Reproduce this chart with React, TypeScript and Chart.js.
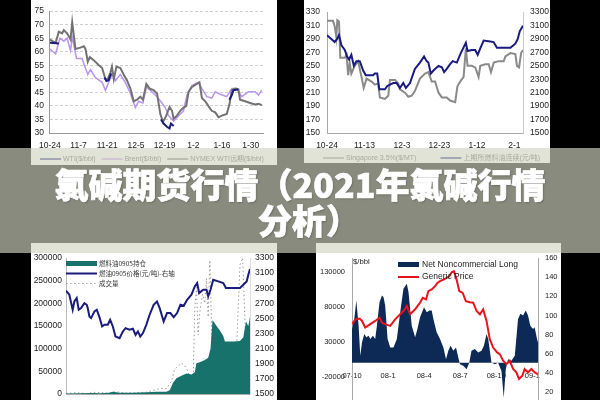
import React, { useEffect, useRef } from 'react';
import { Chart, registerables } from 'chart.js';
Chart.register(...registerables);

const FONT = '"Liberation Sans", Arial, "Noto Sans CJK SC", sans-serif';
const CJK = '"Noto Sans CJK SC", "Liberation Sans", sans-serif';

// ---------- Chart 1 : WTI / Brent / NYMEX ----------
const c1TickDays = [0, 14, 28, 42, 56, 70, 84, 98];
const c1TickLabels = ['10-24', '11-7', '11-21', '12-5', '12-19', '1-2', '1-16', '1-30'];
const wtiDays = [0, 1.9, 4.4, 5.0, 26.6, 27.6, 28.7, 29.9, 30.5, 54.2, 55.5, 57.1, 58.4, 59.1, 60.4, 61, 87.6, 88.8, 89.6, 92.0];
const wtiVals = [63.3, 63.2, 63.0, null, 50.5, 49.2, 49.5, 52, null, 35, 33.5, 32.3, 31.7, 33.5, 32.6, null, 42.3, 44, 45.8, 46.1];
const brentDays = [0, 2.8, 4.9, 6.8, 8.4, 10.1, 10.9, 13.0, 15.7, 18.5, 19.8, 22.2, 25.5, 27.1, 28.7, 30.3, 32.0, 34.4, 36.8, 39.3, 41.7, 43.3, 45.4, 47.1, 49.0, 52.3, 54.7, 56.3, 57.9, 60.4, 62.8, 65.2, 66.9, 69.3, 72.5, 74.2, 76.6, 79.0, 80.7, 83.1, 86.3, 88.8, 91.2, 93.6, 96.9, 100.1, 101.8, 103.4];
const brentVals = [61, 59.2, 65, 63.9, 65, 60.4, 65.6, 57.5, 57.5, 51.6, 53.4, 50.5, 48.7, 45.8, 48.7, 51.6, 49.3, 51.6, 48.7, 44.6, 39.4, 41.7, 41.1, 47, 45.8, 43.4, 41.1, 39.4, 36.4, 34.4, 36.4, 38.2, 44, 47.5, 48.7, 46.4, 43.4, 42.9, 45.2, 44.3, 43.4, 46.4, 46.4, 43.4, 45.2, 45.2, 44, 45.8];
const nymexDays = [0, 2.8, 4.4, 6.0, 6.8, 8.4, 10.1, 10.9, 12.5, 14.9, 16.6, 17.4, 18.5, 19.5, 21.4, 23.9, 25.5, 27.1, 28.2, 29.5, 30.3, 31.2, 32.5, 34.4, 36.0, 37.7, 39.3, 40.9, 42.5, 44.1, 45.4, 47.1, 48.7, 50.6, 52.3, 53.9, 55.2, 56.8, 58.4, 59.6, 60.4, 62.0, 63.6, 65.2, 66.5, 67.7, 69.3, 71.7, 73.0, 74.2, 75.8, 77.4, 79.0, 80.7, 82.3, 83.9, 86.3, 87.6, 88.8, 90.4, 92.0, 92.8, 95.3, 97.7, 100.1, 101.8, 103.4];
const nymexVals = [64.5, 63.3, 67.4, 66.8, 68, 66.8, 64.5, 70.9, 61, 61.5, 62, 61, 56.3, 58, 56.9, 55, 54, 49.9, 49.9, 52.2, 54.5, 49.9, 54.5, 54, 51.6, 49.3, 46.4, 41.7, 42.3, 43.4, 42.3, 48.1, 46.4, 45.8, 44.6, 37, 34.1, 36.4, 39.6, 38.2, 35.3, 36.4, 38.2, 39.4, 39.9, 45.2, 47, 48.1, 48.7, 42.9, 41.7, 39.9, 38.2, 37.6, 35.8, 36.4, 37, 40.5, 45.8, 46.4, 46.1, 42.3, 41.7, 41.1, 40.5, 40.8, 40.3];

// ---------- Chart 2 : Singapore / SHFE fuel oil ----------
const c2TickDays = [0, 20, 40, 60, 80, 100];
const c2TickLabels = ['10-24', '11-13', '12-3', '12-23', '1-12', '2-1'];
const sgDays = [0, 3.2, 4.1, 5.0, 5.5, 6.4, 7.1, 9.5, 10.4, 11.3, 12.1, 13.0, 14.8, 16.6, 18.4, 19.6, 21.1, 23.8, 25.5, 27.3, 28.2, 30.9, 32.7, 33.6, 36.3, 38.0, 38.9, 41.6, 43.4, 45.2, 46.9, 49.6, 52.3, 54.1, 55.9, 57.7, 59.5, 61.3, 63.9, 65.7, 68.4, 69.6, 71.1, 72.9, 74.1, 75.0, 77.3, 79.1, 80.9, 81.8, 84.5, 86.3, 87.5, 89.0, 91.6, 94.3, 95.2, 97.9, 100.5, 101.4, 102.5, 103.6, 104.6];
const sgVals = [317.3, 317, 308.9, 292.4, 318, 316, 262, 262, 266.5, 236, 254.8, 238.4, 250, 257, 233.6, 217, 231, 226.6, 222, 224, 203, 200.8, 205.5, 229, 229, 224, 215, 210, 204, 205.5, 212.5, 231, 238.4, 240.7, 226.6, 226.6, 210, 203, 203, 198.4, 196, 219.6, 226.6, 233.6, 276, 250, 250, 247.7, 233.6, 250, 252.4, 252.4, 240.7, 254.8, 257, 257, 264, 269, 267.5, 250, 247.7, 269, 273.6];
const shDays = [0, 2.3, 4.1, 5.4, 6.4, 7.7, 9.5, 10.7, 11.8, 13.0, 14.3, 15.7, 17.5, 19.3, 20.7, 22.9, 24.6, 25.5, 26.8, 27.9, 30.9, 32.1, 33.6, 35.4, 37.1, 38.9, 40.7, 42.1, 44.3, 46.9, 49.6, 51.8, 53.2, 54.1, 55.4, 56.8, 59.5, 61.3, 62.5, 63.9, 65.7, 67.1, 69.3, 71.4, 74.1, 75.0, 77.3, 79.1, 80.4, 81.8, 83.6, 87.1, 88.9, 90.7, 95.2, 97.9, 100.5, 101.8, 102.9, 104.6];
const shVals = [2957, 2900, 2854, 2900, 2957, 2807, 2736, 2640, 2595, 2665, 2500, 2570, 2570, 2430, 2360, 2360, 2360, 2384, 2384, 2150, 2150, 2196, 2220, 2244, 2244, 2170, 2244, 2170, 2244, 2454, 2548, 2640, 2570, 2548, 2384, 2430, 2500, 2477, 2407, 2454, 2524, 2570, 2548, 2690, 2844, 2720, 2736, 2736, 2665, 2760, 2877, 2863, 2854, 2770, 2770, 2770, 2830, 2900, 3018, 3098];

// ---------- Chart 3 : fuel oil 0905 ----------
const oiDays = [0, 8, 16, 20, 26, 28, 32, 40, 48, 54, 60, 62, 64, 66, 69, 72, 75, 77, 78, 80, 83, 85, 86.4, 87.6, 90, 92, 94, 95, 100, 104, 106, 107.6, 109, 110];
const oiVals = [1000, 1500, 2000, 1500, 3000, 5000, 3000, 3000, 4000, 5000, 5000, 8000, 25000, 35000, 40000, 45000, 43000, 48000, 68000, 70000, 75000, 80000, 100000, 163000, 150000, 140000, 128000, 116000, 116000, 117000, 125000, 160000, 150000, 170000];
const fpDays = [0, 2, 4, 5, 6.4, 7.6, 9, 11, 12.4, 13, 14, 15, 17, 18.4, 20, 21.6, 23, 25, 26.4, 28, 29.6, 32, 34, 35.6, 38, 40, 41.6, 43, 44.4, 46, 48, 50, 52.4, 54.4, 56, 58.4, 60.4, 62.4, 64.4, 66.4, 68.4, 70.4, 72.4, 75, 77, 78.4, 79.6, 82, 84, 85, 86.4, 88, 91, 94, 95.6, 100, 104, 106, 108, 109, 110];
const fpVals = [2867, 2814, 2615, 2725, 2770, 2615, 2637, 2703, 2681, 2637, 2527, 2504, 2593, 2615, 2517, 2394, 2416, 2416, 2482, 2394, 2261, 2239, 2328, 2372, 2350, 2363, 2283, 2328, 2261, 2306, 2416, 2549, 2681, 2725, 2637, 2460, 2571, 2571, 2517, 2571, 2681, 2668, 2747, 2814, 2924, 2968, 2836, 2880, 2880, 2792, 2880, 3013, 2990, 2968, 2902, 2902, 2902, 2946, 2990, 3079, 3154];
const volDays = [0, 6, 12, 18, 24, 30, 36, 42, 48, 52, 56, 60, 63, 65, 69, 71, 73, 75, 76, 77, 78, 79, 80, 81.6, 83, 84, 85, 86, 87.2, 90, 96, 102, 104, 105.6, 107.2, 110];
const volVals = [1000, 3000, 1000, 4000, 2000, 5000, 2000, 3000, 4000, 8000, 12000, 12000, 28000, 55000, 68000, 62000, 50000, 8000, 30000, 190000, 235000, 130000, 180000, 220000, 200000, 255000, 170000, 295000, 120000, 110000, 100000, 105000, 285000, 300000, 140000, 155000];

// ---------- Chart 4 : net noncommercial long ----------
const c4TickMonths = [0, 3, 6, 9, 12, 15];
const c4TickLabels = ['07-10', '08-1', '08-4', '08-7', '08-10', '09-1'];
const c4LeftTicks = [-70000, -20000, 30000, 80000, 130000];
const nclMonths = [0, 0.19, 0.36, 0.55, 0.69, 0.83, 1.02, 1.19, 1.38, 1.52, 1.74, 1.93, 2.07, 2.29, 2.49, 2.62, 2.76, 2.96, 3.18, 3.45, 3.73, 4.01, 4.28, 4.56, 4.70, 4.97, 5.25, 5.44, 5.66, 5.99, 6.22, 6.44, 6.63, 6.77, 7.04, 7.32, 7.60, 7.82, 8.01, 8.20, 8.43, 8.65, 8.84, 8.98, 9.25, 9.53, 9.75, 9.94, 10.22, 10.50, 10.77, 10.97, 11.19, 11.33, 11.60, 11.88, 12.15, 12.43, 12.62, 12.79, 12.98, 13.26, 13.54, 13.81, 14.01, 14.23, 14.45, 14.64, 14.83, 15.06, 15.19, 15.39, 15.47];
const nclVals = [48300, 62700, 89000, 53000, 9800, 29000, 41000, 36300, 38700, 33800, 38700, 33800, 53000, 86700, 96300, 94000, 82000, 33800, 21800, 21800, 33800, 72300, 106000, 113200, 101000, 53000, 36300, 48300, 65000, 79500, 72300, 74700, 74700, 62700, 43500, 33800, 21800, 5000, 17000, 24200, 17000, 21800, 7400, -2200, -4600, -9400, 0, 17000, 19400, 14600, 17000, 24200, 41000, 33800, 200, -2200, 0, -11800, -50300, -9400, 5000, 2600, 9800, 62700, 70000, 67500, 74700, 67500, 53000, 48300, 50700, 33800, 29000];
const gpMonths = [0, 0.28, 0.64, 0.83, 1.10, 1.52, 1.93, 2.29, 2.49, 2.76, 3.18, 3.59, 4.01, 4.28, 4.56, 4.83, 5.25, 5.66, 5.88, 6.16, 6.35, 6.63, 6.91, 7.10, 7.32, 7.60, 7.87, 8.09, 8.29, 8.48, 8.70, 8.92, 9.20, 9.47, 9.80, 10.08, 10.36, 10.64, 10.91, 11.19, 11.46, 11.74, 12.07, 12.29, 12.57, 12.85, 13.12, 13.40, 13.67, 13.89, 14.17, 14.36, 14.64, 14.92, 15.19, 15.47];
const gpVals = [91, 96, 96.8, 94.4, 87.5, 91, 94.4, 97.8, 92.6, 91, 89.2, 96, 101.3, 104.7, 110, 101.3, 106.5, 113.4, 118.5, 116.8, 125.5, 127.2, 130.6, 134, 135.8, 137.5, 139.3, 141, 145.1, 146.2, 137.5, 125.5, 123.8, 115, 113.9, 113.4, 104.7, 101.3, 106.5, 94.4, 75.4, 66.7, 61.6, 59.8, 52.9, 49.4, 52.9, 44.3, 40.8, 34, 37.4, 44.3, 40.8, 44.3, 40.8, 39.1];

const titleLine1 = '氯碱期货行情（2021年氯碱行情';
const titleLine2 = '分析）';

const pts = (xs: number[], ys: (number | null)[]) => xs.map((x, i) => ({ x, y: ys[i] }));
const plain = (v: any) => String(v);

const panelLegend = {
  id: 'panelLegend',
  afterDraw(chart: any, _a: any, o: any) {
    if (!o || o.x === undefined) return;
    const ctx = chart.ctx;
    ctx.save();
    ctx.font = `${o.size}px ${o.family}`;
    ctx.textBaseline = 'middle';
    ctx.textAlign = 'left';
    let x = o.x;
    let y = o.y;
    chart.data.datasets.forEach((ds: any) => {
      if (ds.fill) {
        ctx.fillStyle = ds.backgroundColor;
        ctx.fillRect(x, y - o.boxH / 2, o.sampleW, o.boxH);
      } else {
        ctx.strokeStyle = ds.borderColor;
        ctx.lineWidth = o.lineW || ds.borderWidth;
        ctx.setLineDash(ds.borderDash || []);
        ctx.beginPath();
        ctx.moveTo(x, y);
        ctx.lineTo(x + o.sampleW, y);
        ctx.stroke();
        ctx.setLineDash([]);
      }
      ctx.fillStyle = o.color;
      ctx.fillText(ds.label, x + o.sampleW + o.gapText, y);
      if (o.dir === 'h') x += o.sampleW + o.gapText + ctx.measureText(ds.label).width + o.gapItem;
      else y += o.rowH;
    });
    if (o.extraText) {
      ctx.font = `${o.extraSize}px ${FONT}`;
      ctx.fillText(o.extraText, o.extraX, o.extraY);
    }
    ctx.restore();
  },
};

const tickFont = (size: number) => ({ family: FONT, size });

function config1(): any {
  return {
    type: 'line',
    data: {
      datasets: [
        { label: 'WTI($/bbl)', data: pts(wtiDays, wtiVals), borderColor: '#1c1c78', borderWidth: 2, order: 0 },
        { label: 'Brent($/bbl)', data: pts(brentDays, brentVals), borderColor: '#b995ee', borderWidth: 1.5, order: 2 },
        { label: 'NYMEX WTI远期($/bbl)', data: pts(nymexDays, nymexVals), borderColor: '#727272', borderWidth: 2, order: 1 },
      ],
    },
    options: {
      responsive: false, animation: false, spanGaps: false,
      elements: { point: { radius: 0 }, line: { tension: 0 } },
      layout: { padding: { top: 5, right: 14, bottom: 12, left: 0 } },
      plugins: {
        legend: { display: false }, tooltip: { enabled: false },
        panelLegend: { x: 9, y: 159, dir: 'h', sampleW: 21, gapText: 2, gapItem: 6, size: 7, family: FONT, color: '#555', lineW: 1.5 },
      },
      scales: {
        x: {
          type: 'linear', min: 0, max: 104,
          afterBuildTicks: (s: any) => { s.ticks = c1TickDays.map((v) => ({ value: v })); },
          afterFit: (s: any) => { s.height = 20; },
          ticks: { callback: (_v: any, i: number) => c1TickLabels[i], font: tickFont(8.5), color: '#222', padding: 8, maxRotation: 0, autoSkip: false },
          grid: { display: false, drawTicks: false }, border: { color: '#999' },
        },
        y: {
          min: 30, max: 75,
          afterFit: (s: any) => { s.width = 18; },
          ticks: { stepSize: 5, padding: 6, font: tickFont(8.5), color: '#222', callback: plain },
          grid: { color: '#cfcfcf', drawTicks: false }, border: { color: '#999', dash: [3, 2] },
        },
      },
    },
    plugins: [panelLegend],
  };
}

function config2(): any {
  return {
    type: 'line',
    data: {
      datasets: [
        { label: 'Singapore 3.5%($/MT)', data: pts(sgDays, sgVals), borderColor: '#8a8a8a', borderWidth: 2, yAxisID: 'y', order: 1 },
        { label: '上期所燃料油连续(元/吨)', data: pts(shDays, shVals), borderColor: '#1a1a80', borderWidth: 2, yAxisID: 'y1', order: 0 },
      ],
    },
    options: {
      responsive: false, animation: false,
      elements: { point: { radius: 0 }, line: { tension: 0 } },
      layout: { padding: { top: 5, right: 0, bottom: 10, left: 0 } },
      plugins: {
        legend: { display: false }, tooltip: { enabled: false },
        panelLegend: { x: 19, y: 158, dir: 'h', sampleW: 21, gapText: 2, gapItem: 24, size: 7, family: FONT, color: '#555', lineW: 1.5 },
      },
      scales: {
        x: {
          type: 'linear', min: 0, max: 104.6,
          afterBuildTicks: (s: any) => { s.ticks = c2TickDays.map((v) => ({ value: v })); },
          afterFit: (s: any) => { s.height = 20; },
          ticks: { callback: (_v: any, i: number) => c2TickLabels[i], font: tickFont(8.5), color: '#222', padding: 8, maxRotation: 0, autoSkip: false },
          grid: { display: false, drawTicks: false }, border: { color: '#aaa' },
        },
        y: {
          min: 150, max: 330, position: 'left',
          afterFit: (s: any) => { s.width = 23; },
          ticks: { stepSize: 20, padding: 7, font: tickFont(8.5), color: '#222', callback: plain },
          grid: { display: false, drawTicks: false }, border: { color: '#aaa' },
        },
        y1: {
          min: 1500, max: 3300, position: 'right',
          afterFit: (s: any) => { s.width = 27; },
          ticks: { stepSize: 200, padding: 7, font: tickFont(8.5), color: '#222', callback: plain },
          grid: { display: false, drawTicks: false }, border: { color: '#ccc' },
        },
      },
    },
    plugins: [panelLegend],
  };
}

function config3(): any {
  return {
    type: 'line',
    data: {
      datasets: [
        { label: '燃料油0905持仓', data: pts(oiDays, oiVals), borderColor: '#16726b', backgroundColor: '#16726b', borderWidth: 0, fill: 'origin', yAxisID: 'y' },
        { label: '燃油0905价格(元/吨)-右轴', data: pts(fpDays, fpVals), borderColor: '#1b1b7c', borderWidth: 2, yAxisID: 'y1' },
        { label: '成交量', data: pts(volDays, volVals), borderColor: '#9a9a9a', borderWidth: 1, borderDash: [1.5, 2.5], yAxisID: 'y' },
      ],
    },
    options: {
      responsive: false, animation: false,
      elements: { point: { radius: 0 }, line: { tension: 0 } },
      layout: { padding: { top: 15, right: 0, bottom: 9, left: 0 } },
      plugins: {
        legend: { display: false }, tooltip: { enabled: false },
        panelLegend: { x: 35, y: 20.5, dir: 'v', rowH: 10, sampleW: 31, gapText: 2, boxH: 5, size: 6.5, family: CJK, color: '#333' },
      },
      scales: {
        x: {
          type: 'linear', min: 0, max: 110,
          afterFit: (s: any) => { s.height = 20; },
          ticks: { display: false },
          grid: { display: false, drawTicks: false }, border: { color: '#aaa' },
        },
        y: {
          min: 0, max: 300000, position: 'left',
          afterFit: (s: any) => { s.width = 35; },
          ticks: { stepSize: 50000, padding: 4, font: tickFont(8.5), color: '#222', callback: plain },
          grid: { display: false, drawTicks: false }, border: { color: '#bbb' },
        },
        y1: {
          min: 1500, max: 3300, position: 'right',
          afterFit: (s: any) => { s.width = 27; },
          ticks: { stepSize: 200, padding: 5, font: tickFont(8.5), color: '#222', callback: plain },
          grid: { display: false, drawTicks: false }, border: { color: '#ddd' },
        },
      },
    },
    plugins: [panelLegend],
  };
}

function config4(): any {
  return {
    type: 'line',
    data: {
      datasets: [
        { label: 'Net Noncommercial Long', data: pts(nclMonths, nclVals), borderColor: '#0c2a55', backgroundColor: '#0c2a55', borderWidth: 0, fill: 'origin', yAxisID: 'y', order: 1 },
        { label: 'Generic Price', data: pts(gpMonths, gpVals), borderColor: '#e8141c', borderWidth: 2, yAxisID: 'y1', order: 0 },
      ],
    },
    options: {
      responsive: false, animation: false,
      elements: { point: { radius: 0 }, line: { tension: 0 } },
      layout: { padding: { top: 15, right: 0, bottom: 10, left: 0 } },
      plugins: {
        legend: { display: false }, tooltip: { enabled: false },
        panelLegend: {
          x: 82, y: 21.5, dir: 'v', rowH: 12.5, sampleW: 21, gapText: 3, boxH: 5, size: 8.5, family: FONT, color: '#222',
          extraText: '$/bbl', extraX: 37, extraY: 19, extraSize: 7.7,
        },
      },
      scales: {
        x: {
          type: 'linear', min: 0, max: 15.47, position: { y: 0 },
          afterBuildTicks: (s: any) => { s.ticks = c4TickMonths.map((v) => ({ value: v })); },
          afterFit: (s: any) => { s.height = 0; },
          ticks: { callback: (_v: any, i: number) => c4TickLabels[i], font: tickFont(7.5), color: '#222', padding: 9, maxRotation: 0, autoSkip: false },
          grid: { display: false, drawTicks: false }, border: { display: false },
        },
        y: {
          min: -70000, max: 150000, position: 'left',
          afterBuildTicks: (s: any) => { s.ticks = c4LeftTicks.map((v) => ({ value: v })); },
          afterFit: (s: any) => { s.width = 36; },
          ticks: { padding: 7, font: tickFont(7.5), color: '#222', callback: plain },
          grid: { display: false, drawTicks: false }, border: { color: '#aaa' },
        },
        y1: {
          min: 0, max: 160, position: 'right',
          afterFit: (s: any) => { s.width = 23; },
          ticks: { stepSize: 20, padding: 7, font: tickFont(7.5), color: '#222', callback: plain },
          grid: { display: false, drawTicks: false }, border: { color: '#aaa' },
        },
      },
    },
    plugins: [panelLegend],
  };
}

function Panel({ left, top, width, height, make }: { left: number; top: number; width: number; height: number; make: () => any }) {
  const ref = useRef<HTMLCanvasElement>(null);
  useEffect(() => {
    const chart = new Chart(ref.current as HTMLCanvasElement, make());
    return () => chart.destroy();
  }, []);
  return (
    <div style={{ position: 'absolute', left, top, width, height, background: '#fff' }}>
      <canvas ref={ref} width={width} height={height} style={{ display: 'block', width, height }} />
    </div>
  );
}

export default function App() {
  return (
    <div style={{ position: 'fixed', left: 0, top: 0, width: 600, height: 400, overflow: 'hidden', background: '#000' }}>
      <Panel left={31} top={0} width={246} height={165} make={config1} />
      <Panel left={304} top={0} width={246} height={163} make={config2} />
      <Panel left={31} top={243} width={246} height={180} make={config3} />
      <Panel left={316} top={243} width={245} height={180} make={config4} />
      <div style={{ position: 'absolute', left: 0, top: 148, width: 600, height: 105, background: 'rgba(207,212,191,0.655)' }} />
      <div
        style={{
          position: 'absolute', left: 0, top: 166, width: 600, textAlign: 'center', color: '#fff',
          fontFamily: '"Noto Sans CJK SC", sans-serif', fontWeight: 900, fontSize: 34, lineHeight: '36px',
          WebkitTextStroke: '0.7px #fff', textShadow: '1px 1px 2px rgba(0,0,0,0.25)',
        }}
      >
        <div>{titleLine1}</div>
        <div style={{ paddingLeft: 18 }}>{titleLine2}</div>
      </div>
    </div>
  );
}
